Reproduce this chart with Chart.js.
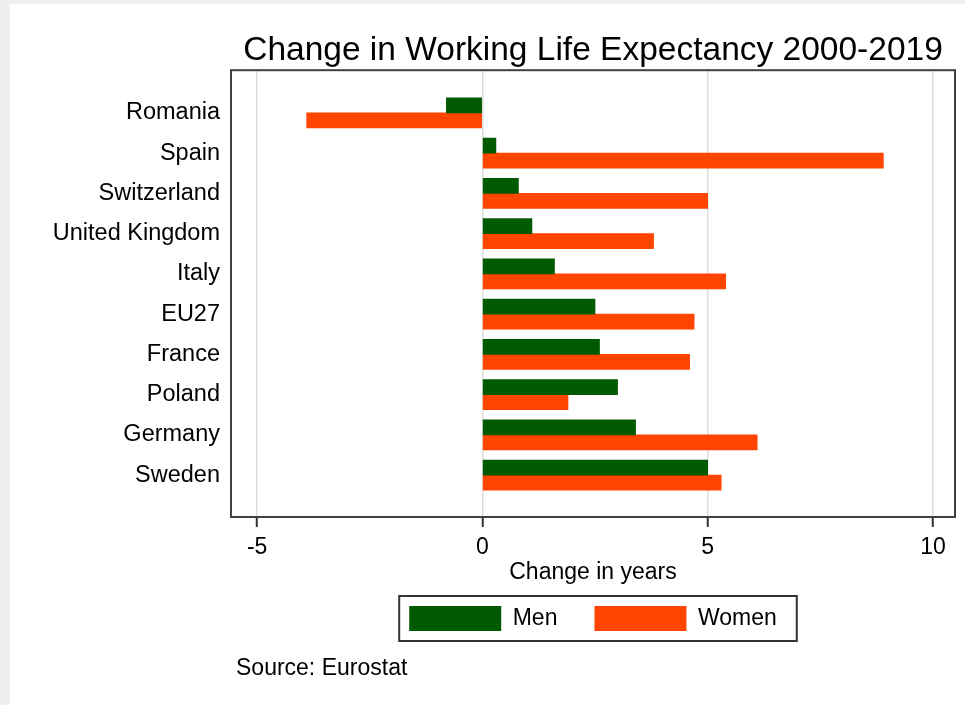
<!DOCTYPE html>
<html>
  <head>
    <meta charset="UTF-8" />
    <title>Working Life Expectancy</title>
    <script src="https://cdn.jsdelivr.net/npm/chart.js@4/dist/chart.umd.min.js"></script>
    <style>
      body { margin: 0; background: #efefef; }
      #chart { position: absolute; left: 10px; top: 4px; background: #fff; }
    </style>
  </head>
  <body>
    <canvas id="chart" width="955" height="701"></canvas>
    <script>
      // values, change in years 2000-2019
      const countries = ["Romania", "Spain", "Switzerland", "United Kingdom", "Italy",
                         "EU27", "France", "Poland", "Germany", "Sweden"];
      const men   = [-0.8, 0.3, 0.8, 1.1, 1.6, 2.5, 2.6, 3.0, 3.4, 5.0];
      const women = [-3.9, 8.9, 5.0, 3.8, 5.4, 4.7, 4.6, 1.9, 6.1, 5.3];
      const xTicks = [-5, 0, 5, 10];

      const FONT = "'Liberation Sans', Arial, sans-serif";
      const GREEN = "#005a00";
      const ORANGE = "#ff4500";

      // plot frame, legend frame and source note
      const extras = {
        id: "extras",
        afterDraw(chart) {
          const ctx = chart.ctx;
          const a = chart.chartArea;
          ctx.save();
          ctx.strokeStyle = "#404040";
          ctx.lineWidth = 2;
          ctx.strokeRect(a.left, a.top, a.right - a.left, a.bottom - a.top);

          const boxes = chart.legend.legendHitBoxes;
          if (boxes && boxes.length) {
            const first = boxes[0], last = boxes[boxes.length - 1];
            const l = first.left - 10, r = last.left + last.width + 20;
            const t = first.top - 10, b = first.top + first.height + 10;
            ctx.strokeStyle = "#333";
            ctx.lineWidth = 2;
            ctx.strokeRect(l, t, r - l, b - t);
          }

          ctx.fillStyle = "#000";
          ctx.font = "23px " + FONT;
          ctx.textBaseline = "alphabetic";
          ctx.textAlign = "left";
          ctx.fillText("Source: Eurostat", 226, 671);
          ctx.restore();
        }
      };

      new Chart(document.getElementById("chart"), {
        type: "bar",
        data: {
          datasets: [
            { label: "Men", data: men.map((v, i) => ({ x: v, y: i })), backgroundColor: GREEN },
            { label: "Women", data: women.map((v, i) => ({ x: v, y: i })), backgroundColor: ORANGE }
          ]
        },
        options: {
          indexAxis: "y",
          responsive: false,
          animation: false,
          barThickness: 15,
          layout: { padding: { left: 0, right: 10, top: 0, bottom: 64 } },
          scales: {
            x: {
              type: "linear",
              min: -5.58,
              max: 10.49,
              afterBuildTicks: (s) => { s.ticks = xTicks.map(v => ({ value: v })); },
              afterFit: (s) => { s.height = 52; },
              grid: { color: "#dcdcdc", lineWidth: 1.5, tickLength: 10, tickColor: "#333", tickWidth: 2 },
              border: { display: false },
              ticks: { color: "#000", font: { family: FONT, size: 23, lineHeight: 1 }, padding: 9, maxRotation: 0 },
              title: {
                display: true, text: "Change in years", color: "#000",
                font: { family: FONT, size: 23 }, padding: { top: 0, bottom: -17 }
              }
            },
            y: {
              type: "linear",
              reverse: true,
              offset: false,
              min: -1.06,
              max: 10.04,
              afterBuildTicks: (s) => { s.ticks = countries.map((c, i) => ({ value: i })); },
              afterFit: (s) => { s.width = 221; },
              grid: { display: false, drawTicks: false, offset: false },
              border: { display: false },
              ticks: {
                color: "#000", font: { family: FONT, size: 23.5 }, padding: 11,
                callback: (v) => countries[v]
              }
            }
          },
          plugins: {
            title: {
              display: true, fullSize: false,
              text: "Change in Working Life Expectancy 2000-2019",
              color: "#000", font: { family: FONT, size: 33.5, weight: "normal" },
              padding: { top: 27, bottom: -1 }
            },
            legend: {
              position: "bottom", fullSize: false,
              labels: {
                boxWidth: 92, boxHeight: 25, padding: 37, color: "#000",
                font: { family: FONT, size: 23 }
              }
            },
            tooltip: { enabled: false }
          }
        },
        plugins: [extras]
      });
    </script>
  </body>
</html>
